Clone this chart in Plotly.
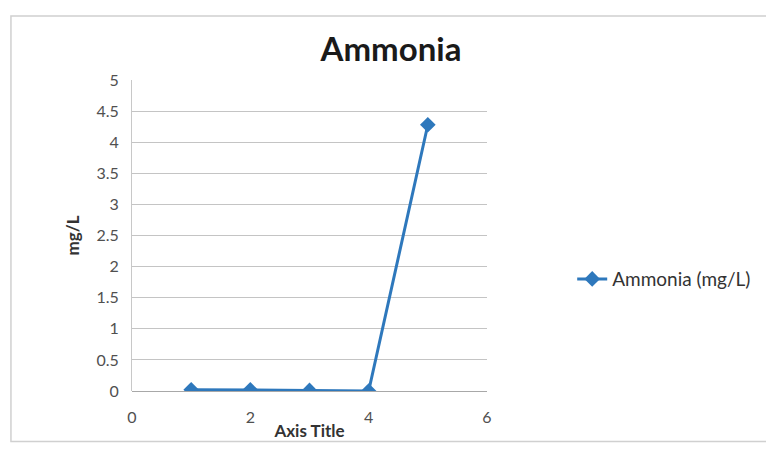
import plotly.graph_objects as go

# Ammonia readings (mg/L) per sample
sample = [1, 2, 3, 4, 5]
ammonia = [0.02, 0.02, 0.01, 0.0, 4.28]
x_ticks = [0, 2, 4, 6]
y_ticks = [0, 0.5, 1, 1.5, 2, 2.5, 3, 3.5, 4, 4.5, 5]

blue = "#2E78BC"
font = "Lato, 'Open Sans', sans-serif"

fig = go.Figure()
fig.add_trace(go.Scatter(
    x=sample, y=ammonia, mode="lines+markers", name="Ammonia (mg/L)",
    line=dict(color=blue, width=3),
    marker=dict(symbol="diamond", size=12, color=blue),
))

# page body has an 8px margin, so the figure is a bit smaller than the window
fig.update_layout(
    width=766, height=441,
    margin=dict(l=124, r=287, t=72, b=58),
    paper_bgcolor="white", plot_bgcolor="white",
    font=dict(family=font, size=15, color="#404040"),
    title=dict(text="<b>Ammonia</b>", x=0.5, xanchor="center", y=0.905, yanchor="middle",
               font=dict(size=33, color="#1a1a1a")),
    showlegend=True,
    legend=dict(x=1.24, y=0.36, xanchor="left", yanchor="middle",
                font=dict(size=19, color="#333333"), bgcolor="rgba(0,0,0,0)"),
    shapes=[dict(type="rect", xref="paper", yref="paper",
                 x0=-0.341, x1=1.80, y0=-0.162, y1=1.206,
                 line=dict(color="#d0d0d0", width=1.5), layer="below")],
)
fig.update_xaxes(range=[0, 6], tickvals=x_ticks, showgrid=False, zeroline=False,
                 showline=False, ticks="", ticklabelstandoff=15,
                 tickfont=dict(size=16, color="#505050"),
                 title=dict(text="<b>Axis Title</b>", font=dict(size=17, color="#333333"), standoff=0))
fig.update_yaxes(range=[0, 5], tickvals=y_ticks, showgrid=True, gridcolor="#c4c4c4", gridwidth=1,
                 zeroline=True, zerolinecolor="#a8a8a8", zerolinewidth=1,
                 showline=True, linecolor="#c8c8c8", ticks="", ticklabelstandoff=9,
                 tickfont=dict(size=16, color="#505050"),
                 title=dict(text="<b>mg/L</b>", font=dict(size=17, color="#333333"), standoff=12))

fig.write_html("out.html")
